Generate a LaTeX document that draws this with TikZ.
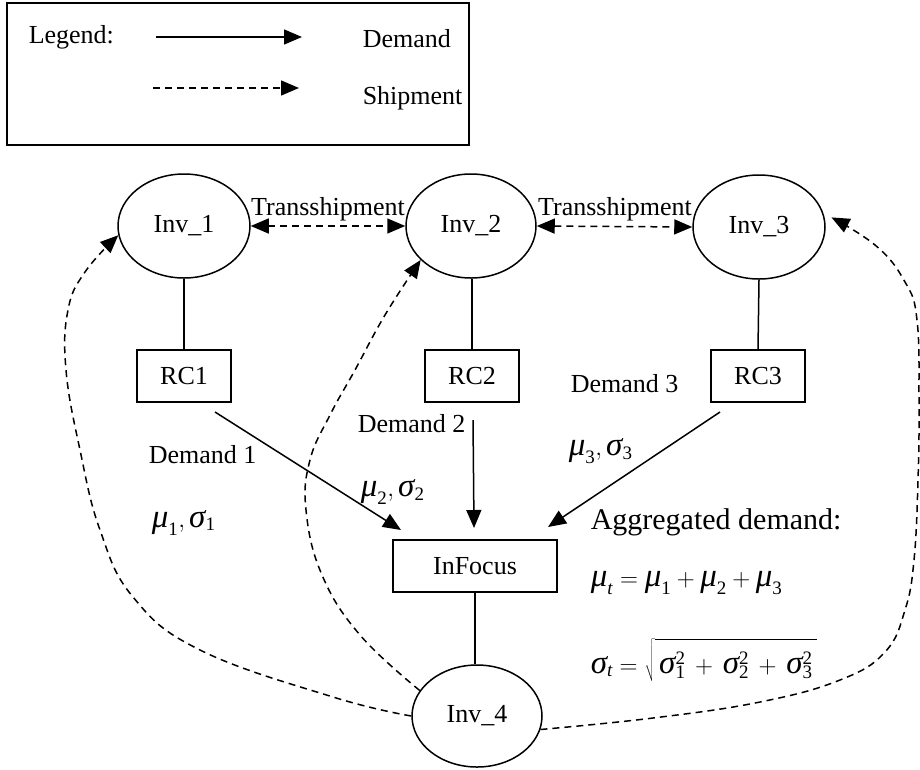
\documentclass[tikz,border=0pt]{standalone}
\usepackage{fontspec}
\setmainfont{Liberation Serif}
\usetikzlibrary{shapes.geometric,arrows.meta}
\newcommand\gr[1]{\mbox{\itshape #1}}
\newcommand\tsub[1]{\mbox{\fontsize{19}{19}\selectfont #1}}
\begin{document}
\begin{tikzpicture}[x=1pt,y=-1pt,line width=1.5pt,
  txt/.style={font=\fontsize{26}{30}\selectfont, inner sep=0pt},
  mth/.style={font=\fontsize{33}{38}\selectfont, inner sep=0pt},
  inv/.style={txt, draw, ellipse, minimum width=132pt, minimum height=104pt},
  box/.style={txt, draw, rectangle, minimum width=94pt, minimum height=52pt},
  tip/.style={-{Triangle[length=18pt,width=15pt]}},
  ship/.style={tip, dash pattern=on 7pt off 5pt},
  shipboth/.style={{Triangle[length=18pt,width=15pt]}-{Triangle[length=18pt,width=15pt]}, dash pattern=on 7pt off 5pt}]
\useasboundingbox (0,0) rectangle (920,769);

% legend
\node[draw, anchor=north west, minimum width=462pt, minimum height=142pt, inner sep=0pt] (legendbox) at (6,2) {};
\node[txt, anchor=base west] (legtxt) at (28,43) {Legend:};
\coordinate (ld1) at (156,37); \coordinate (ld2) at (302,37);
\draw[tip] (ld1) -- (ld2);
\node[txt, anchor=base west] (legdem) at (362,47) {Demand};
\coordinate (ls1) at (153,88); \coordinate (ls2) at (299,88);
\draw[ship] (ls1) -- (ls2);
\node[txt, anchor=base west] (legship) at (362,104) {Shipment};

% nodes
\node[inv] (inv1) at (184,226) {Inv\_1};
\node[inv, minimum width=130pt] (inv2) at (471,226) {Inv\_2};
\node[inv] (inv3) at (759,227) {Inv\_3};
\node[inv, minimum width=130pt, minimum height=102pt] (inv4) at (477,716) {Inv\_4};
\node[box] (rc1) at (184,376) {RC1};
\node[box] (rc2) at (472,376) {RC2};
\node[box] (rc3) at (758,376) {RC3};
\node[box, minimum width=164pt] (infocus) at (475,566) {InFocus};

% plain links
\draw (inv1.south) -- (rc1.north);
\draw (rc2.north |- inv2.south) -- (rc2.north);
\draw (inv3.south) -- (rc3.north);
\draw (infocus.south) -- (infocus.south |- inv4.north);

% transshipment
\draw[shipboth] (inv1.east) -- (inv2.west);
\draw[shipboth] (inv2.east) -- (inv3.west);
\node[txt, anchor=base] (ts1) at (328,215) {Transshipment};
\node[txt, anchor=base] (ts2) at (615,215) {Transshipment};

% demand arrows
\coordinate (d1s) at (215,412); \coordinate (d1e) at (401,530);
\coordinate (d2s) at (473,420); \coordinate (d2e) at (474,528);
\coordinate (d3s) at (720,412); \coordinate (d3e) at (548,527);
\draw[tip] (d1s) -- (d1e);
\draw[tip] (d2s) -- (d2e);
\draw[tip] (d3s) -- (d3e);

% labels
\node[txt, anchor=base west] (dl1) at (148,463) {Demand 1};
\node[txt, anchor=base west] (dl2) at (357,432) {Demand 2};
\node[txt, anchor=base west] (dl3) at (570,392) {Demand 3};
\node[mth, anchor=base west] (ms1) at (151,527) {$\gr{μ}_{\tsub{1}}, \gr{σ}_{\tsub{1}}$};
\node[mth, anchor=base west] (ms2) at (360,496) {$\gr{μ}_{\tsub{2}}, \gr{σ}_{\tsub{2}}$};
\node[mth, anchor=base west] (ms3) at (568,455) {$\gr{μ}_{\tsub{3}}, \gr{σ}_{\tsub{3}}$};
\node[txt, anchor=base west, font=\fontsize{30}{36}\selectfont] (agg) at (590,529) {Aggregated demand:};
\node[mth, anchor=base west] (mut) at (590,586) {$\gr{μ}_{\tsub{\itshape t}} = \gr{μ}_{\tsub{1}} + \gr{μ}_{\tsub{2}} + \gr{μ}_{\tsub{3}}$};
\node[mth, anchor=base west] (sigt) at (590,673) {\medmuskip=7mu $\gr{σ}_{\tsub{\itshape t}} = \sqrt{\rule{0pt}{30pt}\,\gr{σ}_{\tsub{1}}^{\tsub{2}} + \gr{σ}_{\tsub{2}}^{\tsub{2}} + \gr{σ}_{\tsub{3}}^{\tsub{2}}\,}$};

% shipment curves
\draw[ship] plot[smooth, tension=0.7] coordinates {(inv4.west) (333,697) (200,650) (133,597) (100,530) (80,450) (66,370) (68,310) (85,272) (inv1.188)};
\draw[ship] plot[smooth, tension=0.7] coordinates {(inv4.156) (360,635) (322,575) (306,510) (310,460) (330,415) (355,370) (385,315) (inv2.214)};
\draw[ship, shorten >=9pt] plot[smooth, tension=0.7] coordinates {(inv4.348) (653,718) (760,702) (840,680) (885,652) (905,610) (914,560) (918,480) (919,400) (917,320) (905,282) (875,245) (inv3.12)};
\end{tikzpicture}
\end{document}
